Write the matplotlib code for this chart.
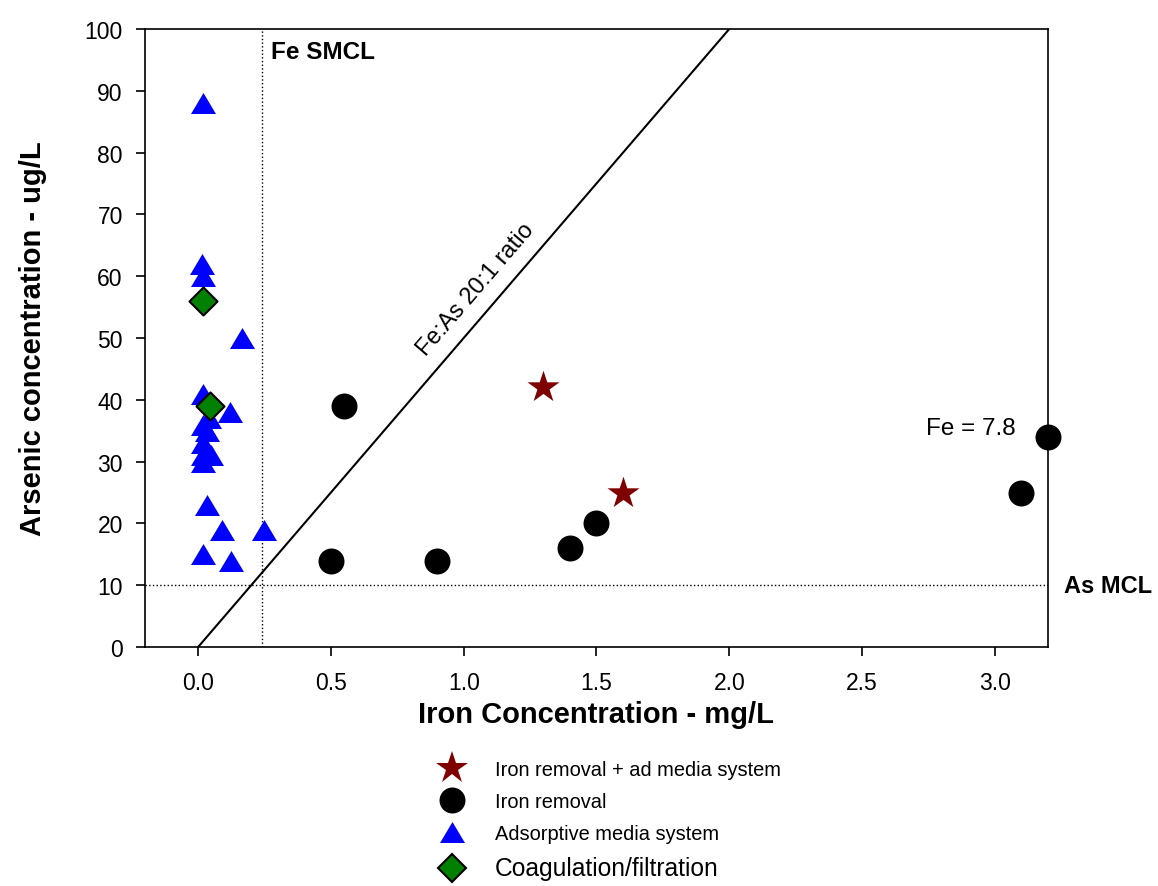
import numpy as np
import matplotlib.pyplot as plt
from matplotlib.lines import Line2D

plt.rcParams['font.family'] = ['Liberation Sans', 'DejaVu Sans']

# iron removal + adsorptive media (stars)
star_fe = [1.3, 1.6]
star_as = [42, 25]
# iron removal (circles)
circ_fe = [0.5, 0.9, 0.55, 1.4, 1.5, 3.1, 3.2]
circ_as = [14, 14, 39, 16, 20, 25, 34]
# adsorptive media system (triangles)
tri_fe = [0.02, 0.015, 0.02, 0.165, 0.02, 0.12, 0.04, 0.02, 0.035,
          0.02, 0.05, 0.02, 0.02, 0.035, 0.09, 0.25, 0.02, 0.125]
tri_as = [88, 62, 60, 50, 41, 38, 37, 36, 35,
          33, 31, 31, 30, 23, 19, 19, 15, 14]
# coagulation/filtration (diamonds)
dia_fe = [0.02, 0.045]
dia_as = [56, 39]

fe_smcl = 0.24
as_mcl = 10
ratio_fe = [0, 2.0]
ratio_as = [0, 100]

# triangle a bit wider than tall
tri = [(-1, -0.84), (1, -0.84), (0, 0.84)]

fig = plt.figure(figsize=(11.58, 8.87), dpi=100)
ax = fig.add_axes([0.1252, 0.2694, 0.7798, 0.6968])

ax.plot(ratio_fe, ratio_as, color='black', lw=1.5, zorder=2)
ax.axvline(fe_smcl, color='black', ls=':', lw=1, zorder=1)
ax.axhline(as_mcl, color='black', ls=':', lw=1, zorder=1)

ax.scatter(tri_fe, tri_as, marker=tri, s=324, color='blue', lw=0, zorder=3, clip_on=False)
ax.scatter(circ_fe, circ_as, marker='o', s=350, color='black', lw=0, zorder=3, clip_on=False)
ax.scatter(star_fe, star_as, marker='*', s=586, color='#7f0000', lw=0, zorder=3, clip_on=False)
ax.scatter(dia_fe, dia_as, marker='D', s=204, color='green', edgecolor='black',
           lw=1.5, zorder=4, clip_on=False)

ax.set_xlim(-0.2, 3.2)
ax.set_ylim(0, 100)
ax.set_xticks([0.0, 0.5, 1.0, 1.5, 2.0, 2.5, 3.0])
ax.set_xticklabels(['0.0', '0.5', '1.0', '1.5', '2.0', '2.5', '3.0'])
ax.set_yticks(np.arange(0, 101, 10))
ax.tick_params(direction='out', length=6.5, width=1.2, labelsize=16.5,
               top=False, right=False)
ax.tick_params(axis='x', pad=11)
ax.tick_params(axis='y', pad=9.5)
for s in ax.spines.values():
    s.set_linewidth(1.2)

ax.set_xlabel('Iron Concentration - mg/L', fontsize=21, fontweight='bold', labelpad=4)
ax.set_ylabel('Arsenic concentration - ug/L', fontsize=21, fontweight='bold', labelpad=27)

ax.text(0.275, 96.4, 'Fe SMCL', fontsize=17.5, fontweight='bold', ha='left', va='center')
ax.text(3.26, 10, 'As MCL', fontsize=17, fontweight='bold', ha='left', va='center',
        clip_on=False)
ax.text(3.08, 35.4, 'Fe = 7.8', fontsize=17.5, ha='right', va='center')
ax.text(1.045, 57.9, 'Fe:As 20:1 ratio', fontsize=17, rotation=49.3,
        ha='center', va='center', rotation_mode='anchor')

handles = [
    Line2D([], [], ls='none', marker='*', ms=24.2, color='#7f0000', mew=0),
    Line2D([], [], ls='none', marker='o', ms=18.7, color='black', mew=0),
    Line2D([], [], ls='none', marker=tri, ms=18, color='blue', mew=0),
    Line2D([], [], ls='none', marker='D', ms=14.3, color='green', mec='black', mew=1.5),
]
labels = ['Iron removal + ad media system', 'Iron removal',
          'Adsorptive media system', 'Coagulation/filtration']
leg = fig.legend(handles, labels, loc='upper left', bbox_to_anchor=(0.3736, 0.1425),
                 frameon=False, fontsize=14.4, handlelength=1.95, handletextpad=1.18,
                 labelspacing=0.66, borderaxespad=0, borderpad=0)
leg.get_texts()[3].set_fontsize(17.7)

fig.savefig('out.png', dpi=100)
